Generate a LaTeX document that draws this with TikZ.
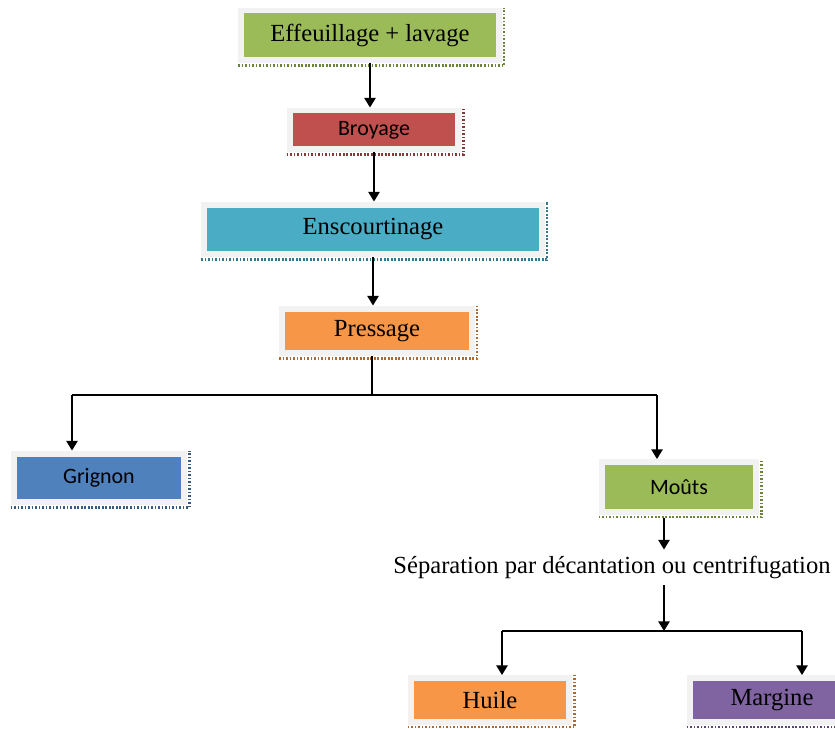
\documentclass[tikz,border=0pt]{standalone}
\usepackage{fontspec}
\setmainfont{Liberation Serif}
\newfontfamily\calib{Carlito}
\usetikzlibrary{arrows.meta,positioning}

\definecolor{leafgreen}{HTML}{9BBB59}
\definecolor{brickred}{HTML}{C0504D}
\definecolor{aqua}{HTML}{4BACC6}
\definecolor{tangerine}{HTML}{F79646}
\definecolor{steel}{HTML}{4F81BD}
\definecolor{violet}{HTML}{8064A2}
\definecolor{frame}{HTML}{F2F2F2}

\begin{document}
\begin{tikzpicture}[
    x=0.02cm, y=-0.02cm,
    box/.style={rectangle, draw=frame, line width=0.12cm, fill=#1, text centered, inner sep=0pt, font=\fontsize{14}{16}\selectfont},
    sbox/.style={box=#1, font=\calib\fontsize{12.5}{15}\selectfont},
    trail/.style={draw=#1!70!black, dash pattern=on 1pt off 1pt, line width=1.3pt},
    arrow/.style={-{Triangle[length=5.5pt,width=6.5pt]}, line width=0.8pt},
    link/.style={line width=0.8pt}
]
\useasboundingbox (0,0) rectangle (835,729);

\node[box=leafgreen, minimum width=5.16cm, minimum height=1.0cm] (eff) at (370,35.5) {Effeuillage + lavage};
\node[sbox=brickred, minimum width=3.38cm, minimum height=0.78cm] (broy) at (374,130) {Broyage};
\node[box=aqua, minimum width=6.76cm, minimum height=1.0cm] (ensc) at (373,229.5) {Enscourtinage};
\node[box=tangerine, minimum width=3.8cm, minimum height=0.9cm] (press) at (377,331) {Pressage};
\node[sbox=steel, minimum width=3.42cm, minimum height=0.98cm] (grig) at (99,478) {Grignon};
\node[sbox=leafgreen, minimum width=3.1cm, minimum height=1.0cm] (mouts) at (679,487) {Moûts};
\node[font=\fontsize{14}{16}\selectfont] (sep) at (612,567) {Séparation par décantation ou centrifugation};
\node[box=tangerine, minimum width=3.18cm, minimum height=0.88cm] (huile) at (490,700) {Huile};
\node[box=violet, minimum width=3.3cm, minimum height=0.88cm] (marg) at (772,700) {Margine};

% dashed trails under the boxes
\foreach \n/\c in {eff/leafgreen, broy/brickred, ensc/aqua, press/tangerine, grig/steel, mouts/leafgreen, huile/tangerine, marg/violet}
    \draw[trail=\c] ([yshift=-1.2pt]\n.south west) -- ([yshift=-1.2pt,xshift=1.2pt]\n.south east) -- ([xshift=1.2pt]\n.north east);

% branch points
\coordinate (fork) at (372,395);
\coordinate (forkL) at (72,395);
\coordinate (forkR) at (657,395);
\coordinate (mdown) at (664,518);
\coordinate (sdown) at (664,585);
\coordinate (split) at (664,631);
\coordinate (splitL) at (502,631);
\coordinate (splitR) at (802,631);

\draw[arrow] (eff.south) -- (eff.south |- broy.north);
\draw[arrow] (broy.south) -- (broy.south |- ensc.north);
\draw[arrow] (ensc.south) -- (ensc.south |- press.north);
\draw[link] (fork |- press.south) -- (fork);
\draw[link] (forkL) -- (forkR);
\draw[arrow] (forkL) -- (forkL |- grig.north);
\draw[arrow] (forkR) -- (forkR |- mouts.north);
\draw[arrow] (mdown) -- (mdown |- sep.north);
\draw[arrow] (sdown) -- (split);
\draw[link] (splitL) -- (splitR);
\draw[arrow] (splitL) -- (splitL |- huile.north);
\draw[arrow] (splitR) -- (splitR |- marg.north);

\end{tikzpicture}
\end{document}
